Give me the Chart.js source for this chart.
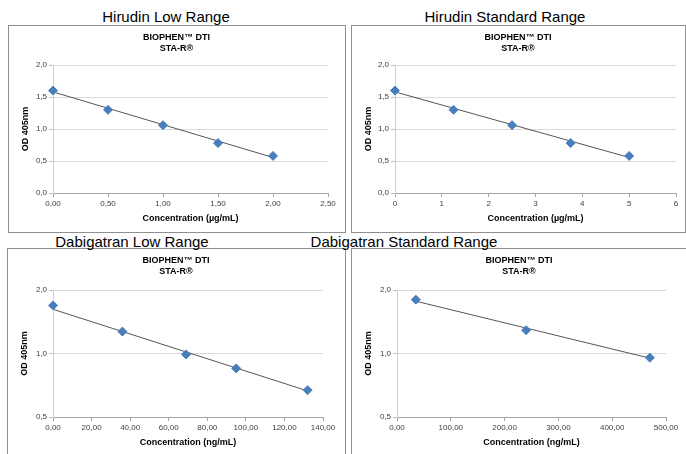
<!DOCTYPE html>
<html>
<head>
<meta charset="utf-8">
<script src="https://cdn.jsdelivr.net/npm/chart.js@4.4.1/dist/chart.umd.min.js"></script>
<style>
  body { margin: 0; background: #fff; width: 686px; height: 454px; overflow: hidden; position: relative; font-family: "Liberation Sans", Arial, sans-serif; }
  .box { position: absolute; border: 1px solid #909090; box-sizing: border-box; }
  .head { position: absolute; font-size: 15px; color: #000; white-space: nowrap; transform: translateX(-50%); }
  canvas { position: absolute; }
</style>
</head>
<body>

<div class="box" style="left:8px;top:25px;width:338px;height:208px"></div>
<div class="box" style="left:351px;top:25px;width:335px;height:208px"></div>
<div class="box" style="left:7px;top:248px;width:339px;height:220px"></div>
<div class="box" style="left:351px;top:248px;width:340px;height:220px"></div>

<div class="head" style="left:166px;top:8px">Hirudin Low Range</div>
<div class="head" style="left:505px;top:8px">Hirudin Standard Range</div>
<div class="head" style="left:132px;top:233px">Dabigatran Low Range</div>
<div class="head" style="left:404px;top:233px">Dabigatran Standard Range</div>

<canvas id="c1" style="left:9px;top:26px"></canvas>
<canvas id="c2" style="left:352px;top:26px"></canvas>
<canvas id="c3" style="left:8px;top:249px"></canvas>
<canvas id="c4" style="left:352px;top:249px"></canvas>

<script>
// Hirudin low range
const hirLowConc = [0, 0.5, 1.0, 1.5, 2.0];
const hirLowOD = [1.60, 1.30, 1.06, 0.78, 0.58];
const hirLowTrendX = [0, 2.0];
const hirLowTrendY = [1.58, 0.555];
const hirLowXTicks = [0, 0.5, 1.0, 1.5, 2.0, 2.5];

// Hirudin standard range
const hirStdConc = [0, 1.25, 2.5, 3.75, 5];
const hirStdOD = [1.60, 1.30, 1.06, 0.78, 0.58];
const hirStdTrendX = [0, 5];
const hirStdTrendY = [1.58, 0.555];
const hirStdXTicks = [0, 1, 2, 3, 4, 5, 6];

// Dabigatran low range
const dabLowConc = [0, 36, 69, 95, 132];
const dabLowOD = [1.69, 1.27, 0.99, 0.85, 0.67];
const dabLowTrendX = [0, 132];
const dabLowTrendY = [1.62, 0.665];
const dabLowXTicks = [0, 20, 40, 60, 80, 100, 120, 140];

// Dabigatran standard range
const dabStdConc = [35, 240, 470];
const dabStdOD = [1.80, 1.29, 0.955];
const dabStdTrendX = [35, 470];
const dabStdTrendY = [1.77, 0.95];
const dabStdXTicks = [0, 100, 200, 300, 400, 500];

// y axis ticks
const linYTicks = [0, 0.5, 1.0, 1.5, 2.0];
const logYTicks = [0.5, 1.0, 2.0];

const headingLines = ['BIOPHEN\u2122 DTI', 'STA-R\u00AE'];
const microgramTitle = 'Concentration (\u00B5g/mL)';
const nanogramTitle = 'Concentration (ng/mL)';

const markerBlue = '#4a7ebb';
const tickFont = { family: 'Liberation Sans, Arial', size: 8 };
const boldFont = { family: 'Liberation Sans, Arial', size: 9, weight: 'bold' };

// heading drawn at canvas centre
const headingPlugin = {
  id: 'heading',
  afterDraw(chart) {
    const ctx = chart.ctx;
    ctx.save();
    ctx.fillStyle = '#000';
    ctx.font = 'bold 9px "Liberation Sans", Arial';
    ctx.textAlign = 'center';
    ctx.textBaseline = 'middle';
    ctx.fillText(headingLines[0], chart.width / 2, 12);
    ctx.fillText(headingLines[1], chart.width / 2, 23);
    ctx.restore();
  }
};

function toPoints(xs, ys) {
  return xs.map((x, i) => ({ x: x, y: ys[i] }));
}

function comma(v, d) {
  return Number(v).toFixed(d).replace('.', ',');
}

function makeChart(id, w, h, conc, od, trendX, trendY, xTicks, xDec, xTitle, logY, box) {
  const cv = document.getElementById(id);
  cv.width = w;
  cv.height = h;
  const yTicks = logY ? logYTicks : linYTicks;
  new Chart(cv, {
    type: 'scatter',
    data: {
      datasets: [
        {
          data: toPoints(conc, od),
          pointStyle: 'rectRot',
          pointRadius: 4.5,
          backgroundColor: markerBlue,
          borderColor: markerBlue,
          borderWidth: 1,
          showLine: false,
          clip: false,
          order: 1
        },
        {
          data: toPoints(trendX, trendY),
          showLine: true,
          pointRadius: 0,
          borderColor: '#555555',
          borderWidth: 1,
          order: 2
        }
      ]
    },
    options: {
      responsive: false,
      animation: false,
      events: [],
      layout: { padding: { top: box.top, right: box.right, left: 0, bottom: 0 } },
      plugins: { legend: { display: false }, tooltip: { enabled: false }, title: { display: false } },
      scales: {
        x: {
          type: 'linear',
          min: xTicks[0],
          max: xTicks[xTicks.length - 1],
          afterBuildTicks: s => { s.ticks = xTicks.map(v => ({ value: v })); },
          afterFit: s => { s.height = box.bottom; },
          grid: { drawOnChartArea: false, drawTicks: true, tickLength: 4, color: '#a6a6a6' },
          border: { color: '#a6a6a6' },
          ticks: { font: tickFont, color: '#404040', padding: 2, maxRotation: 0, autoSkip: false,
                   callback: v => comma(v, xDec) },
          title: { display: true, text: xTitle, font: boldFont, color: '#000', padding: { top: 0, bottom: box.xTitlePad } }
        },
        y: {
          type: logY ? 'logarithmic' : 'linear',
          min: yTicks[0],
          max: yTicks[yTicks.length - 1],
          afterBuildTicks: s => { s.ticks = yTicks.map(v => ({ value: v })); },
          afterFit: s => { s.width = box.left; },
          grid: { color: '#d9d9d9', tickLength: 4, tickColor: '#bfbfbf' },
          border: { color: '#d0d0d0' },
          ticks: { font: tickFont, color: '#404040', padding: 2, autoSkip: false,
                   callback: v => comma(v, 1) },
          title: { display: true, text: 'OD 405nm', font: boldFont, color: '#000', padding: { top: 11, bottom: 0 } }
        }
      }
    },
    plugins: [headingPlugin]
  });
}

makeChart('c1', 335, 205, hirLowConc, hirLowOD, hirLowTrendX, hirLowTrendY, hirLowXTicks, 2,
  microgramTitle, false, { left: 44, right: 16, top: 39, bottom: 38, xTitlePad: 7.5 });
makeChart('c2', 332, 205, hirStdConc, hirStdOD, hirStdTrendX, hirStdTrendY, hirStdXTicks, 0,
  microgramTitle, false, { left: 43, right: 8, top: 39, bottom: 38, xTitlePad: 7.5 });
makeChart('c3', 336, 206, dabLowConc, dabLowOD, dabLowTrendX, dabLowTrendY, dabLowXTicks, 2,
  nanogramTitle, true, { left: 45, right: 21, top: 41, bottom: 38, xTitlePad: 7.5 });
makeChart('c4', 334, 206, dabStdConc, dabStdOD, dabStdTrendX, dabStdTrendY, dabStdXTicks, 2,
  nanogramTitle, true, { left: 45, right: 20, top: 41, bottom: 38, xTitlePad: 7.5 });
</script>
</body>
</html>
